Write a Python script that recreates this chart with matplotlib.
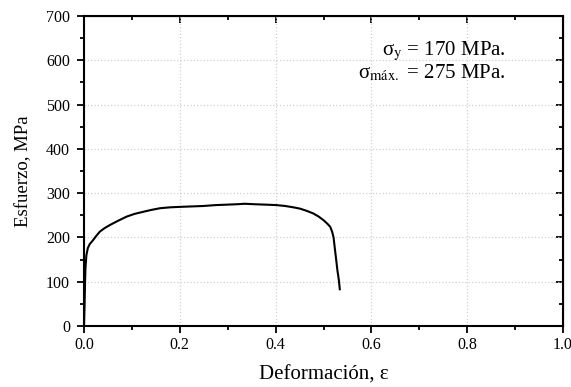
import matplotlib
matplotlib.use("Agg")
import matplotlib.pyplot as plt
from matplotlib.ticker import MultipleLocator

strain = [0.0, 0.001, 0.002, 0.003, 0.005, 0.008, 0.012, 0.019, 0.026, 0.033, 0.043,
          0.054, 0.070, 0.089, 0.105, 0.124, 0.140, 0.159, 0.180, 0.200, 0.225, 0.249,
          0.275, 0.298, 0.320, 0.336, 0.355, 0.380, 0.402, 0.420, 0.437, 0.451, 0.465,
          0.479, 0.490, 0.500, 0.508, 0.514, 0.518, 0.521, 0.524, 0.527, 0.529, 0.532, 0.534]
stress = [0, 40, 90, 130, 160, 176, 185, 194, 204, 213, 221,
          228, 237, 247, 253, 258, 262, 266, 268, 269, 270, 271,
          273, 274, 275, 276, 275, 274, 273, 271, 268, 265, 260,
          254, 247, 239, 231, 224, 213, 200, 172, 145, 126, 104, 83]

xticks = [0.0, 0.2, 0.4, 0.6, 0.8, 1.0]
xticklabels = ["0.0", "0.2", "0.4", "0.6", "0.8", "1.0"]
yticks = [0, 100, 200, 300, 400, 500, 600, 700]

plt.rcParams['font.family'] = ['Liberation Serif', 'DejaVu Serif']
plt.rcParams['mathtext.fontset'] = 'stix'

fig = plt.figure(figsize=(5.71, 3.87), dpi=100)
ax = fig.add_axes([84/571, 1-326/387, (563-84)/571, (326-16)/387])

ax.plot(strain, stress, color='black', lw=1.5, zorder=3)

ax.set_xlim(0, 1.0)
ax.set_ylim(0, 700)
ax.set_xticks(xticks)
ax.set_xticklabels(xticklabels)
ax.set_yticks(yticks)
ax.xaxis.set_minor_locator(MultipleLocator(0.1))
ax.yaxis.set_minor_locator(MultipleLocator(50))
ax.tick_params(which='major', direction='out', length=5, width=1.3, labelsize=11.5)
ax.tick_params(axis='y', which='major', pad=5)
ax.tick_params(axis='x', which='major', pad=3)
ax.tick_params(which='minor', direction='out', length=3, width=1.3)

ax.grid(True, which='major', color='#d0d0d0', linestyle=':', linewidth=0.9)
for s in ax.spines.values():
    s.set_linewidth(1.5)

secx = ax.secondary_xaxis('top')
secx.set_xticks(xticks)
secx.xaxis.set_minor_locator(MultipleLocator(0.1))
secx.tick_params(which='both', direction='in', labeltop=False)
secx.tick_params(which='major', length=5, width=1.3)
secx.tick_params(which='minor', length=3, width=1.3)
secy = ax.secondary_yaxis('right')
secy.set_yticks(yticks)
secy.yaxis.set_minor_locator(MultipleLocator(50))
secy.tick_params(which='both', direction='in', labelright=False)
secy.tick_params(which='major', length=5, width=1.3)
secy.tick_params(which='minor', length=3, width=1.3)

ax.set_xlabel("Deformación, ε", fontsize=15, labelpad=9)
ax.set_ylabel("Esfuerzo, MPa", fontsize=13.5, labelpad=10)

ax.text(0.88, 0.885, r"σ$_\mathrm{y}$ = 170 MPa.", transform=ax.transAxes,
        fontsize=15, ha='right', va='center')
ax.text(0.88, 0.815, r"σ$_\mathrm{máx.}$ = 275 MPa.", transform=ax.transAxes,
        fontsize=15, ha='right', va='center')

fig.savefig("out.png", dpi=100)
